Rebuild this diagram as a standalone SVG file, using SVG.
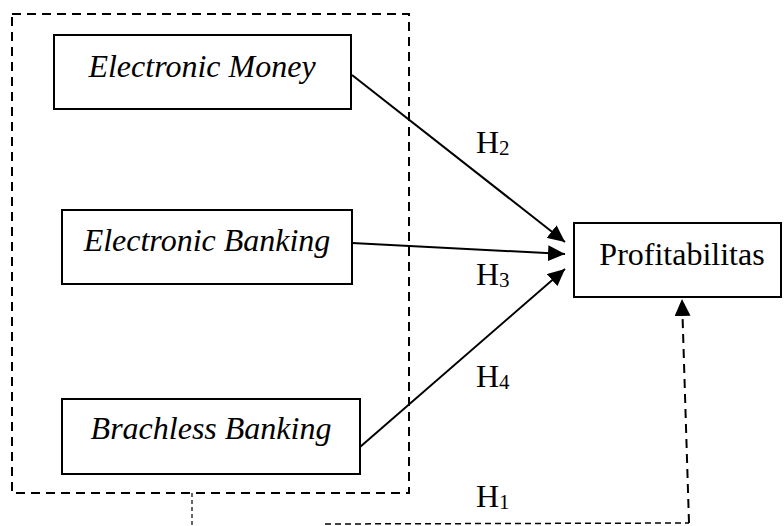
<svg xmlns="http://www.w3.org/2000/svg" width="784" height="526" viewBox="0 0 784 526">
<style>
.box{fill:#fff;stroke:#000;stroke-width:2}
text{font-family:'Liberation Serif', 'Times New Roman', Times, serif;font-size:32px;fill:#000}
.it{font-style:italic}
.sub{font-size:21px}
.arr{stroke:#000;stroke-width:2;fill:none}
</style>
<defs>
<marker id="ah" markerUnits="userSpaceOnUse" markerWidth="18" markerHeight="16" refX="17" refY="8" orient="auto">
<path d="M0,0 L17,8 L0,16 Z" fill="#000"/>
</marker>
</defs>
<g id="group-frame">
<rect x="12" y="14" width="397" height="479" fill="none" stroke="#000" stroke-width="2" stroke-dasharray="9 6"/>
</g>
<g id="connectors">
<line class="arr" x1="352" y1="75" x2="565" y2="242" marker-end="url(#ah)"/>
<line class="arr" x1="352" y1="243" x2="565" y2="254" marker-end="url(#ah)"/>
<line class="arr" x1="360" y1="447" x2="565" y2="269" marker-end="url(#ah)"/>
<polyline points="192,493 192,526" fill="none" stroke="#000" stroke-width="1.2" stroke-dasharray="4 3"/>
<line x1="325" y1="524" x2="689" y2="523" stroke="#000" stroke-width="1.5" stroke-dasharray="6 4"/>
<line x1="689" y1="523" x2="682" y2="299" stroke="#000" stroke-width="2" stroke-dasharray="9 6" marker-end="url(#ah)"/>
<text font-family="Liberation Serif, serif" x="476" y="153">H<tspan class="sub" dy="2">2</tspan></text>
<text font-family="Liberation Serif, serif" x="476" y="285">H<tspan class="sub" dy="2">3</tspan></text>
<text font-family="Liberation Serif, serif" x="476" y="387">H<tspan class="sub" dy="2">4</tspan></text>
<text font-family="Liberation Serif, serif" x="476" y="507">H<tspan class="sub" dy="2">1</tspan></text>
</g>
<g id="node-em">
<rect class="box" x="54" y="35" width="297" height="74"/>
<text class="it" font-family="Liberation Serif, serif" x="202" y="77" text-anchor="middle">Electronic Money</text>
</g>
<g id="node-eb">
<rect class="box" x="62" y="210" width="290" height="74"/>
<text class="it" font-family="Liberation Serif, serif" x="207" y="251" text-anchor="middle">Electronic Banking</text>
</g>
<g id="node-bb">
<rect class="box" x="62" y="399" width="298" height="75"/>
<text class="it" font-family="Liberation Serif, serif" x="211" y="439" text-anchor="middle">Brachless Banking</text>
</g>
<g id="node-profit">
<rect class="box" x="574" y="223" width="207" height="74"/>
<text font-family="Liberation Serif, serif" x="682" y="265" text-anchor="middle">Profitabilitas</text>
</g>
</svg>
